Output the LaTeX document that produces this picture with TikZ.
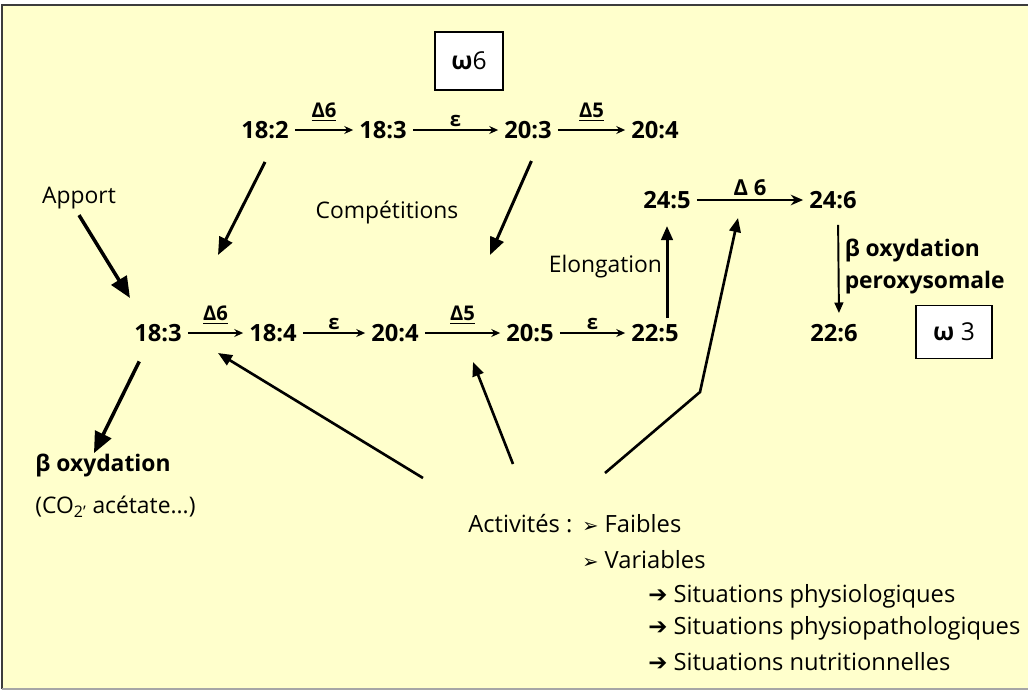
\documentclass[tikz,border=0pt]{standalone}
\usepackage{fontspec}
\setmainfont{Open Sans}
\newfontfamily\symfont{DejaVu Sans}
\usetikzlibrary{arrows.meta}
\definecolor{papier}{HTML}{FFFFCC}
\definecolor{cadre}{HTML}{3C3C3C}

\begin{document}
\begin{tikzpicture}[
    acid/.style={font=\fontsize{13.5}{16}\selectfont\bfseries},
    lbl/.style={font=\fontsize{13}{16}\selectfont},
    enz/.style={font=\fontsize{11.5}{13}\selectfont\bfseries, inner sep=1.5pt},
    note/.style={font=\fontsize{13.5}{16}\selectfont, anchor=west, inner sep=0pt},
    famille/.style={draw=black, line width=1pt, fill=white, font=\fontsize{14}{16}\selectfont},
    pas/.style={-{Stealth[length=5pt,width=4.5pt]}, line width=0.7pt},
    gros/.style={-{Triangle[length=12pt,width=10pt]}, line width=2pt},
    moyen/.style={-{Triangle[length=8pt,width=6.5pt]}, line width=1.5pt}
]
    % --- fond et cadre ---
    \useasboundingbox (0,0) rectangle (20.56,-13.82);
    \fill[white] (0,0) rectangle (20.56,-13.82);
    \fill[papier] (0.04,-0.1) rectangle (20.56,-13.78);
    \draw[cadre, line width=1.7pt] (0.04,-13.78) -- (0.04,-0.1) -- (20.56,-0.1);
    \draw[gray!70, line width=1pt] (0.04,-13.78) -- (20.56,-13.78);

    % --- familles ---
    \node[famille, minimum width=1.36cm, minimum height=1.16cm] (om6) at (9.38,-1.22) {\textbf{ω}6};
    \node[famille, minimum width=1.52cm, minimum height=1.06cm] (om3) at (19.08,-6.64) {\textbf{ω} 3};

    % --- serie omega 6 ---
    \node[acid] (a182) at (5.3,-2.6) {18:2};
    \node[acid] (a183) at (7.66,-2.6) {18:3};
    \node[acid] (a203) at (10.56,-2.6) {20:3};
    \node[acid] (a204) at (13.1,-2.6) {20:4};
    \draw[pas] (a182) -- node[enz, above=3pt] {\underline{Δ6}} (a183);
    \draw[pas] (a183) -- node[enz, above] {ε} (a203);
    \draw[pas] (a203) -- node[enz, above=3pt] {\underline{Δ5}} (a204);

    % --- serie omega 3 ---
    \node[acid] (b183) at (3.16,-6.66) {18:3};
    \node[acid] (b184) at (5.46,-6.66) {18:4};
    \node[acid] (b204) at (7.9,-6.66) {20:4};
    \node[acid] (b205) at (10.6,-6.66) {20:5};
    \node[acid] (b225) at (13.1,-6.66) {22:5};
    \node[acid] (b245) at (13.34,-4.0) {24:5};
    \node[acid] (b246) at (16.66,-4.0) {24:6};
    \node[acid] (b226) at (16.68,-6.66) {22:6};
    \draw[pas] (b183) -- node[enz, above=3pt] {\underline{Δ6}} (b184);
    \draw[pas] (b184) -- node[enz, above] {ε} (b204);
    \draw[pas] (b204) -- node[enz, above=3pt] {\underline{Δ5}} (b205);
    \draw[pas] (b205) -- node[enz, above] {ε} (b225);
    \draw[-{Stealth[length=7pt,width=6pt]}, line width=1.4pt] (b245) -- node[enz, above, font=\fontsize{12.5}{14}\selectfont\bfseries] {Δ 6} (b246);
    \draw[moyen, line width=1.7pt, shorten >=0.22cm] (b225.north -| b245) -- node[lbl, left, inner sep=2pt] {Elongation} (b245);
    \draw[-{Triangle[length=6pt,width=5pt]}, line width=1.1pt, shorten <=0.2cm, shorten >=0.1cm]
        ([xshift=0.1cm]b246.south) -- node[right, align=left, inner sep=3pt, font=\fontsize{13}{18}\selectfont\bfseries] {β oxydation\\peroxysomale} ([xshift=0.1cm]b226.north);

    % --- textes ---
    \node[lbl] (apport) at (1.58,-3.96) {Apport};
    \node[lbl] (compet) at (7.74,-4.24) {Compétitions};
    \node[lbl, anchor=west, inner sep=0pt, font=\fontsize{13}{16}\selectfont\bfseries] (betaox) at (0.7,-9.3) {β oxydation};
    \node[lbl, anchor=west, inner sep=0pt] (produits) at (0.7,-10.14) {(CO\textsubscript{2’} acétate...)};

    \node[note] (act) at (9.36,-10.48) {Activités :};
    \node[note] (faible) at (11.64,-10.48) {{\symfont\fontsize{11}{12}\selectfont ➢} Faibles};
    \node[note] (variable) at (11.64,-11.2) {{\symfont\fontsize{11}{12}\selectfont ➢} Variables};
    \node[note] (sit1) at (12.96,-11.92) {{\symfont\fontsize{13}{12}\selectfont ➔} Situations physiologiques};
    \node[note] (sit2) at (12.96,-12.56) {{\symfont\fontsize{13}{12}\selectfont ➔} Situations physiopathologiques};
    \node[note] (sit3) at (12.96,-13.24) {{\symfont\fontsize{13}{12}\selectfont ➔} Situations nutritionnelles};

    % --- fleches ---
    \coordinate (t182) at (4.36,-5.1);
    \coordinate (t203) at (9.8,-5.1);
    \coordinate (tapp) at (2.6,-5.96);
    \draw[gros] (apport.south) -- (tapp);
    \draw[moyen, line width=1.7pt, -{Triangle[length=10pt,width=8pt]}, shorten <=0.38cm] (a182.-60) -- (t182);
    \draw[moyen, line width=1.7pt, -{Triangle[length=10pt,width=8pt]}, shorten <=0.35cm] (a203.-55) -- (t203);
    \draw[gros, shorten <=0.3cm] (b183.-129) -- ([xshift=-0.18cm]betaox.north);

    \coordinate (act1) at (8.46,-9.56);
    \coordinate (act2) at (10.26,-9.28);
    \coordinate (act3) at (12.1,-9.46);
    \coordinate (coude) at (14.0,-7.84);
    \coordinate (c184) at (4.36,-7.06);
    \coordinate (c205) at (9.46,-7.24);
    \coordinate (c246) at (14.76,-4.36);
    \draw[moyen] (act1) -- (c184);
    \draw[moyen] (act2) -- (c205);
    \draw[moyen] (act3) -- (coude) -- (c246);
\end{tikzpicture}
\end{document}
